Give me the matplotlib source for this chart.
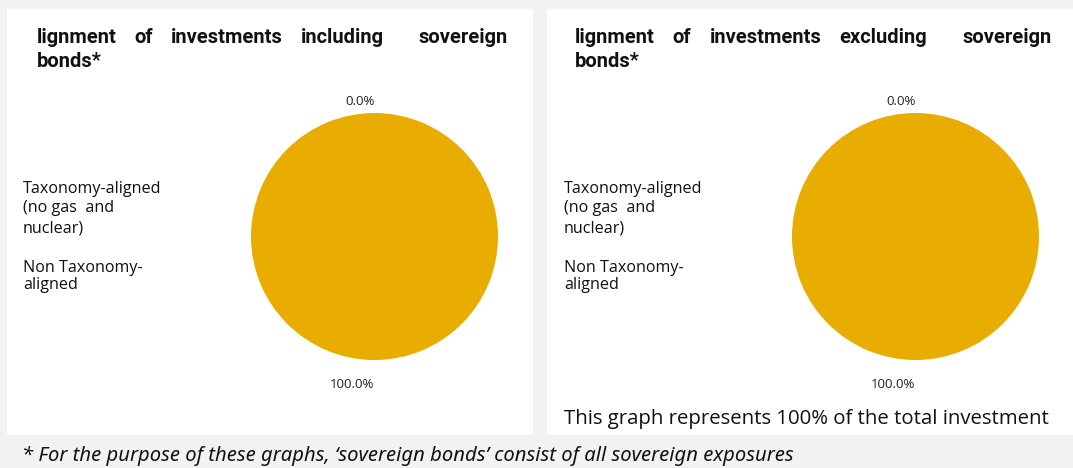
import matplotlib.pyplot as plt

W, H = 1073, 468
DPI = 100

# data
shares = [0.0, 100.0]
share_labels = [f"{v:.1f}%" for v in shares]
pie_colors = ["#4d7a9e", "#E8AD00"]
titles = [
    ["lignment of investments including  sovereign", "bonds*"],
    ["lignment of investments excluding  sovereign", "bonds*"],
]
legend_lines = [["Taxonomy-aligned", "(no gas  and", "nuclear)"], ["Non Taxonomy-", "aligned"]]
footnote = "* For the purpose of these graphs, \u2018sovereign bonds\u2019 consist of all sovereign exposures"
note = "This graph represents 100% of the total investment"


def box(x0, y0, x1, y1):
    # pixel box (top-left origin) -> figure fractions
    return [x0 / W, 1 - y1 / H, (x1 - x0) / W, (y1 - y0) / H]


def px(x, y):
    return x / W, 1 - y / H


fig = plt.figure(figsize=(W / DPI, H / DPI), dpi=DPI, facecolor="#f2f2f2")

panels = [(7, 9, 533, 435), (547, 9, 1080, 435)]
pie_centers = [(374.5, 236.5), (915.5, 236.5)]
title_x = [(37, 508), (575, 1052)]
legend_x = [23, 564]
radius = 123.5

for i in range(2):
    bg = fig.add_axes(box(*panels[i]))
    bg.set_facecolor("white")
    bg.set_xticks([])
    bg.set_yticks([])
    for s in bg.spines.values():
        s.set_visible(False)

    cx, cy = pie_centers[i]
    ax = fig.add_axes(box(cx - radius, cy - radius, cx + radius, cy + radius))
    ax.pie(shares, labels=share_labels, colors=pie_colors, startangle=90, counterclock=False,
           labeldistance=1.142, wedgeprops={"linewidth": 0},
           textprops={"fontsize": 9.5, "family": "Open Sans", "color": "#222222", "va": "top"})
    ax.set_xlim(-1, 1)
    ax.set_ylim(-1, 1)
    ax.set_aspect("equal")

    # justified title, first line (a double space counts as a double gap)
    parts = titles[i][0].split(" ")
    words = [p for p in parts if p]
    weights = []
    k = 0
    for p in parts[1:]:
        k += 1
        if p:
            weights.append(k)
            k = 0
    x0, x1 = title_x[i]
    texts = []
    for w in words:
        t = fig.text(*px(x0, 43), w, fontsize=14.5, fontweight="bold", family="Roboto",
                     va="baseline", ha="left", color="#111111")
        texts.append(t)
    fig.canvas.draw()
    r = fig.canvas.get_renderer()
    widths = [t.get_window_extent(r).width for t in texts]
    unit = (x1 - x0 - sum(widths)) / sum(weights)
    xpos = x0
    for j, (t, wd) in enumerate(zip(texts, widths)):
        t.set_position(px(xpos, 43))
        if j < len(weights):
            xpos += wd + unit * weights[j]
    fig.text(*px(x0, 67), titles[i][1], fontsize=14.5, fontweight="bold", family="Roboto",
             va="baseline", ha="left", color="#111111")

    # legend text
    ys = [[189, 208, 228], [268, 285]]
    for lines, yy in zip(legend_lines, ys):
        for line, y in zip(lines, yy):
            fig.text(*px(legend_x[i], y), line, fontsize=11.6, family="Open Sans",
                     va="center", ha="left", color="#111111")

fig.text(*px(564, 419), note, fontsize=14.7, family="Open Sans", va="center", ha="left", color="#111111")
fig.text(*px(22, 456), footnote, fontsize=14.55, family="Noto Sans", style="italic",
         va="center", ha="left", color="#111111")

fig.savefig("out.png", dpi=DPI, facecolor=fig.get_facecolor())
